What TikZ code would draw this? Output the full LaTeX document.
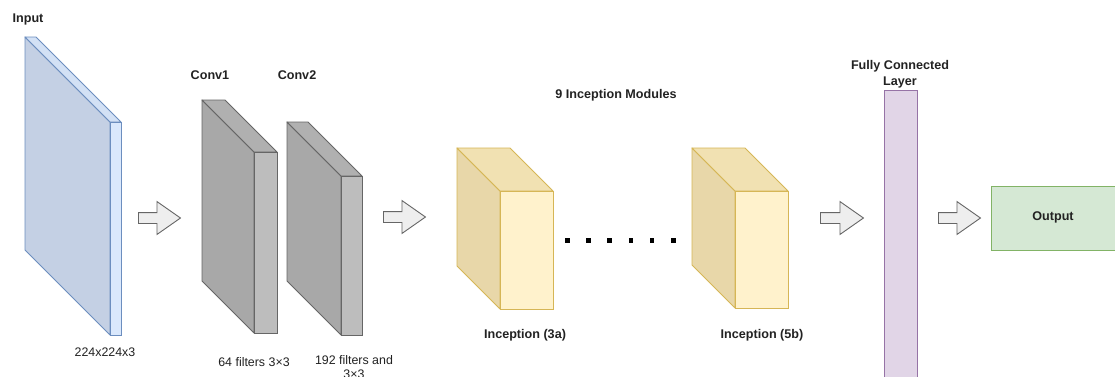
\documentclass[tikz,border=0pt]{standalone}
\usepackage{fontspec}
\setmainfont{Liberation Sans}
\usetikzlibrary{shapes.arrows}

\definecolor{txt}{HTML}{222222}
\definecolor{blueside}{HTML}{C4D0E4}
\definecolor{bluefront}{HTML}{DAE8FC}
\definecolor{bluetop}{HTML}{D3E1F5}
\definecolor{bluedraw}{HTML}{6C8EBF}
\definecolor{greyside}{HTML}{A8A8A8}
\definecolor{greyfront}{HTML}{BDBDBD}
\definecolor{greytop}{HTML}{B0B0B0}
\definecolor{greydraw}{HTML}{666666}
\definecolor{yelside}{HTML}{E8D7A9}
\definecolor{yelfront}{HTML}{FFF2CC}
\definecolor{yeltop}{HTML}{F1E1B2}
\definecolor{yeldraw}{HTML}{D6B656}
\definecolor{purfill}{HTML}{E1D5E7}
\definecolor{purdraw}{HTML}{9673A6}
\definecolor{grnfill}{HTML}{D5E8D4}
\definecolor{grndraw}{HTML}{82B366}
\definecolor{arrfill}{HTML}{EEEEEE}

% slab / cube: #1 left x, #2 top y, #3 depth, #4 front width, #5 front height,
% #6 colour family (blue, grey, yel), #7 node name of the front face
\newcommand\slabshape[7]{%
  \filldraw[draw=#6draw, fill=#6side, line join=round]
    (#1,#2) -- ({#1+#3},{#2+#3}) -- ({#1+#3},{#2+#3+#5}) -- (#1,{#2+#5}) -- cycle;
  \filldraw[draw=#6draw, fill=#6top, line join=round]
    (#1,#2) -- ({#1+#4},#2) -- ({#1+#3+#4},{#2+#3}) -- ({#1+#3},{#2+#3}) -- cycle;
  \node[draw=#6draw, fill=#6front, inner sep=0pt, anchor=north west,
        minimum width=#4pt, minimum height=#5pt] (#7) at ({#1+#3},{#2+#3}) {};
}

\tikzset{
  lbl/.style={text=txt, font=\fontsize{12.6}{15}\selectfont\bfseries, inner sep=0pt, align=center},
  captxt/.style={text=txt, font=\fontsize{12.4}{14}\selectfont, inner sep=0pt, align=center},
  blockarrow/.style={single arrow, draw=greydraw, fill=arrfill, anchor=tail,
    minimum height=42pt, inner sep=5pt, single arrow head extend=11pt,
    single arrow tip angle=70, line join=miter},
}

\begin{document}
\begin{tikzpicture}[x=1pt, y=-1pt, line width=0.9pt]
\clip (0,0) rectangle (1115,376);
\fill[white] (0,0) rectangle (1115,376);

% input image
\slabshape{25}{37}{85}{11}{213}{blue}{input}
\node[lbl] (inputlbl) at (28,19) {Input};
\node[captxt] (inputcap) at (105,352) {224x224x3};

% convolution layers
\slabshape{202}{100}{52}{23}{181}{grey}{conv1}
\slabshape{287}{122}{54}{21}{159}{grey}{conv2}
\node[lbl] (conv1lbl) at (210,75) {Conv1};
\node[lbl] (conv2lbl) at (297,75) {Conv2};
\node[captxt] (conv1cap) at (254,362) {64 filters 3×3};
\node[captxt, anchor=north] (conv2cap) at (354,355) {192 filters and\\3×3};

% inception modules
\node[lbl] (inclbl) at (616,95) {9 Inception Modules};
\slabshape{457}{148}{43}{53}{118}{yel}{inc3a}
\slabshape{692}{148}{43}{53}{117}{yel}{inc5b}
\node[lbl] (inc3alabel) at (525,335) {Inception (3a)};
\node[lbl] (inc5blabel) at (762,335) {Inception (5b)};
\foreach \i in {0,...,5}
  \fill[black] ({565+21.2*\i},238) rectangle ++(4.5,4.5);

% fully connected layer
\node[draw=purdraw, fill=purfill, inner sep=0pt, anchor=north west,
      minimum width=33pt, minimum height=300pt] (fc) at (884,90) {};
\node[lbl, font=\fontsize{12.6}{16}\selectfont\bfseries] (fclbl) at (900,74) {Fully Connected\\Layer};

% output
\node[draw=grndraw, fill=grnfill, inner sep=0pt, anchor=north west,
      minimum width=130pt, minimum height=64pt] (out) at (991,186) {};
\node[lbl] (outlbl) at (1053,217) {Output};

% flow arrows
\node[blockarrow] (a1) at (138,218) {};
\node[blockarrow] (a2) at (383,217) {};
\node[blockarrow, minimum height=43pt] (a3) at (820,218) {};
\node[blockarrow] (a4) at (938,218) {};
\end{tikzpicture}
\end{document}
